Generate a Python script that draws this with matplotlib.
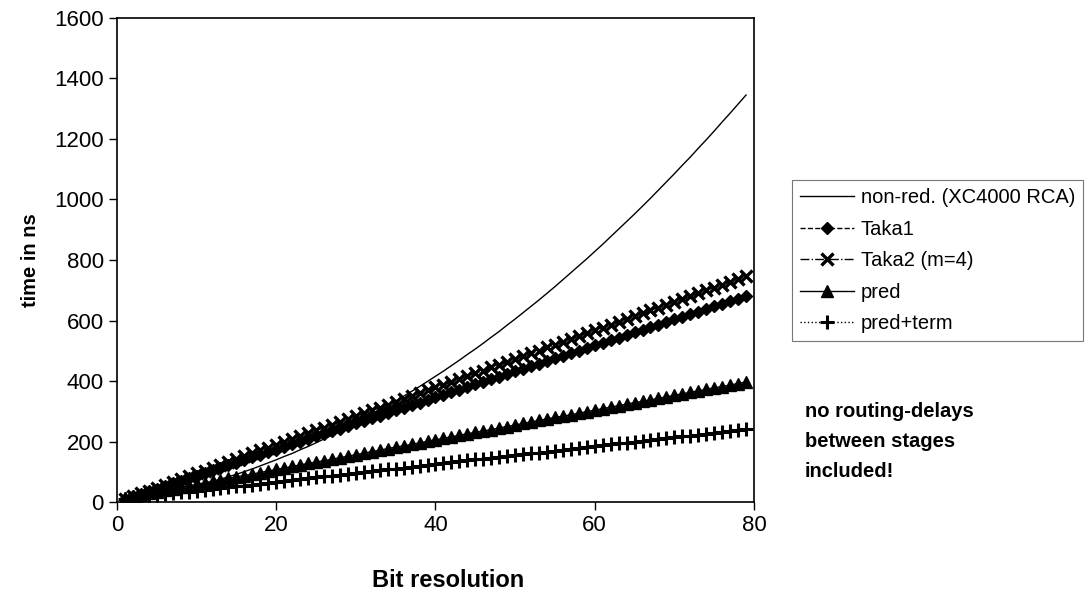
import matplotlib.pyplot as plt

plt.rcParams['font.family'] = ['Liberation Sans', 'DejaVu Sans']

# --- ДАНІ ---
bits = list(range(1, 80))

non_red = [4, 8, 12, 17, 22, 28, 34, 40, 46, 53,
           60, 68, 76, 84, 92, 101, 110, 120, 130, 140,
           151, 161, 173, 184, 196, 209, 221, 234, 247, 261,
           275, 289, 304, 319, 334, 350, 366, 382, 399, 416,
           433, 451, 469, 488, 506, 525, 545, 564, 585, 605,
           626, 647, 668, 690, 712, 735, 758, 781, 804, 828,
           852, 877, 902, 927, 952, 978, 1004, 1031, 1058, 1085,
           1113, 1140, 1169, 1197, 1226, 1256, 1285, 1315, 1345]

taka1 = [10, 19, 27, 36, 45, 53, 62, 70, 79, 88,
         96, 105, 113, 122, 131, 139, 148, 156, 165, 174,
         182, 191, 199, 208, 217, 225, 234, 242, 251, 260,
         268, 277, 285, 294, 303, 311, 320, 328, 337, 346,
         354, 363, 371, 380, 389, 397, 406, 414, 423, 432,
         440, 449, 457, 466, 475, 483, 492, 500, 509, 518,
         526, 535, 543, 552, 561, 569, 578, 586, 595, 604,
         612, 621, 629, 638, 647, 655, 664, 672, 681]

taka2 = [10, 19, 29, 38, 48, 57, 67, 76, 86, 95,
         104, 114, 123, 133, 142, 152, 161, 171, 180, 190,
         199, 208, 218, 227, 237, 246, 256, 265, 275, 284,
         293, 303, 312, 322, 331, 341, 350, 360, 369, 379,
         388, 397, 407, 416, 426, 435, 445, 454, 464, 473,
         482, 492, 501, 511, 520, 530, 539, 549, 558, 568,
         577, 586, 596, 605, 615, 624, 634, 643, 653, 662,
         671, 681, 690, 700, 709, 719, 728, 738, 747]

pred = [15, 20, 25, 30, 35, 39, 44, 49, 54, 59,
        64, 69, 74, 79, 84, 88, 93, 98, 103, 108,
        113, 118, 123, 128, 133, 137, 142, 147, 152, 157,
        162, 167, 172, 177, 182, 186, 191, 196, 201, 206,
        211, 216, 221, 226, 231, 235, 240, 245, 250, 255,
        260, 265, 270, 275, 280, 284, 289, 294, 299, 304,
        309, 314, 319, 324, 329, 333, 338, 343, 348, 353,
        358, 363, 368, 373, 378, 382, 387, 392, 397]

pred_term = [11, 14, 17, 20, 23, 26, 29, 32, 35, 38,
             40, 43, 46, 49, 52, 55, 58, 61, 64, 67,
             70, 73, 76, 79, 82, 85, 88, 91, 94, 97,
             99, 102, 105, 108, 111, 114, 117, 120, 123, 126,
             129, 132, 135, 138, 141, 144, 147, 150, 153, 156,
             158, 161, 164, 167, 170, 173, 176, 179, 182, 185,
             188, 191, 194, 197, 200, 203, 206, 209, 212, 215,
             217, 220, 223, 226, 229, 232, 235, 238, 241]

labels = ['non-red. (XC4000 RCA)', 'Taka1', 'Taka2 (m=4)', 'pred', 'pred+term']

# --- ГРАФІК ---
fig = plt.figure(figsize=(10.88, 5.95), dpi=100)
ax = fig.add_axes([0.1075, 0.156, 0.5855, 0.814])

ax.plot(bits, non_red, color='black', lw=1.0, ls='-', label=labels[0])
ax.plot(bits, taka1, color='black', lw=1.0, ls='--', marker='D', ms=6.5,
        label=labels[1])
ax.plot(bits, taka2, color='black', lw=1.0, ls='-.', marker='x', ms=8, mew=2.4,
        label=labels[2])
ax.plot(bits, pred, color='black', lw=1.0, ls='-', marker='^', ms=8,
        label=labels[3])
ax.plot(bits, pred_term, color='black', lw=1.0, ls=':', marker='+', ms=10, mew=2.2,
        label=labels[4])

ax.set_xlim(0, 80)
ax.set_ylim(0, 1600)
ax.set_xticks(range(0, 81, 20))
ax.set_yticks(range(0, 1601, 200))
ax.tick_params(labelsize=16, direction='out', length=6, width=1)
ax.set_xlabel('Bit resolution', fontsize=17, fontweight='bold')
ax.xaxis.set_label_coords(0.52, -0.138)
ax.set_ylabel('time in ns', fontsize=14.5, fontweight='bold', labelpad=10)
for s in ax.spines.values():
    s.set_linewidth(1.2)

leg = fig.legend(loc='upper left', bbox_to_anchor=(0.728, 0.697),
                 fontsize=14.5, handlelength=2.7, handletextpad=0.3,
                 labelspacing=0.62, frameon=True, fancybox=False,
                 edgecolor='#555555', borderaxespad=0)
leg.get_frame().set_linewidth(0.8)

fig.text(0.740, 0.325, 'no routing-delays\nbetween stages\nincluded!',
         fontsize=14.5, fontweight='bold', va='top', ha='left', linespacing=1.75)

fig.savefig('out.png', dpi=100)
